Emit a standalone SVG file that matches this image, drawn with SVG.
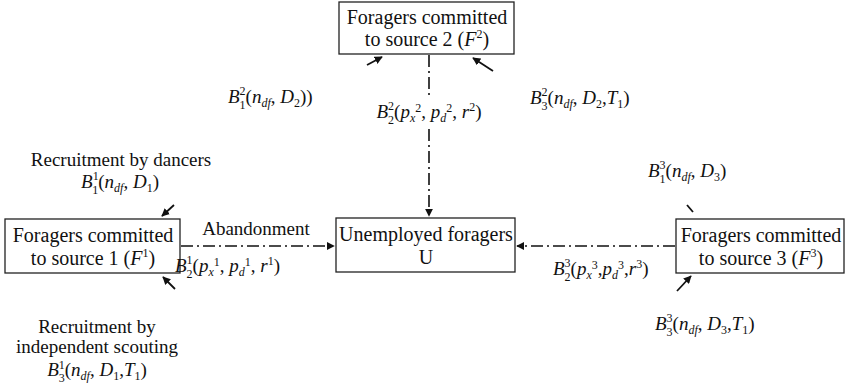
<svg xmlns="http://www.w3.org/2000/svg" width="847" height="386" viewBox="0 0 847 386">
<style>
text{font-family:"Liberation Serif","DejaVu Serif",serif;font-size:20px;fill:#111}
.box{fill:#fff;stroke:#222;stroke-width:1.3}
.lbl{font-size:19px}
.i{font-style:italic}
.s{font-size:12px}
.dd{fill:none;stroke:#111;stroke-width:1.6;stroke-dasharray:12,4,2,4}
.ar{fill:none;stroke:#111;stroke-width:1.8}
</style>
<defs>
<marker id="ah" viewBox="0 0 10 10" refX="9" refY="5" markerWidth="8" markerHeight="8" markerUnits="userSpaceOnUse" orient="auto">
<path d="M0,0 L10,5 L0,10 z" fill="#111"/>
</marker>
</defs>
<g id="connectors">
<line class="dd" x1="429" y1="55" x2="429" y2="97"/>
<line class="dd" x1="429" y1="129" x2="429" y2="216" marker-end="url(#ah)"/>
<line class="dd" x1="181" y1="246" x2="334" y2="246" marker-end="url(#ah)"/>
<line class="dd" x1="675" y1="246" x2="517" y2="246" marker-end="url(#ah)"/>
<line class="ar" x1="367" y1="65" x2="382" y2="57" marker-end="url(#ah)"/>
<line class="ar" x1="493" y1="71" x2="473" y2="58" marker-end="url(#ah)"/>
<line class="ar" x1="174" y1="205" x2="162" y2="216" marker-end="url(#ah)"/>
<line class="ar" x1="175" y1="289" x2="163" y2="277" marker-end="url(#ah)"/>
<line class="ar" x1="687" y1="205" x2="693" y2="212"/>
<line class="ar" x1="677" y1="291" x2="691" y2="276" marker-end="url(#ah)"/>
</g>
<g id="F2">
<rect class="box" x="339" y="2" width="175" height="52"/>
<text x="427" y="24" text-anchor="middle">Foragers committed</text>
<text x="427" y="46" text-anchor="middle">to source 2 (<tspan class="i">F</tspan><tspan class="s" dy="-8">2</tspan><tspan dy="8">)</tspan></text>
</g>
<g id="F1">
<rect class="box" x="5" y="219" width="175" height="54"/>
<text x="93" y="242" text-anchor="middle">Foragers committed</text>
<text x="93" y="265" text-anchor="middle">to source 1 (<tspan class="i">F</tspan><tspan class="s" dy="-8">1</tspan><tspan dy="8">)</tspan></text>
</g>
<g id="U">
<rect class="box" x="336" y="218" width="179" height="54"/>
<text x="426" y="241" text-anchor="middle">Unemployed foragers</text>
<text x="426" y="264" text-anchor="middle">U</text>
</g>
<g id="F3">
<rect class="box" x="676" y="219" width="168" height="54"/>
<text x="761" y="242" text-anchor="middle">Foragers committed</text>
<text x="761" y="265" text-anchor="middle">to source 3 (<tspan class="i">F</tspan><tspan class="s" dy="-8">3</tspan><tspan dy="8">)</tspan></text>
</g>
<g id="labels">
<text class="lbl" x="228" y="103"><tspan class="i">B</tspan><tspan class="s" dy="-8">2</tspan><tspan class="s" dx="-6" dy="13.5">1</tspan><tspan dy="-5.5">(</tspan><tspan class="i">n</tspan><tspan class="s i" dy="4">df</tspan><tspan dy="-4">, </tspan><tspan class="i">D</tspan><tspan class="s" dy="4">2</tspan><tspan dy="-4">))</tspan></text>
<text class="lbl" x="429" y="118" text-anchor="middle"><tspan class="i">B</tspan><tspan class="s" dy="-8">2</tspan><tspan class="s" dx="-6" dy="13.5">2</tspan><tspan dy="-5.5">(</tspan><tspan class="i">p</tspan><tspan class="s i" dy="4">x</tspan><tspan class="s" dy="-10">2</tspan><tspan dy="6">, </tspan><tspan class="i">p</tspan><tspan class="s i" dy="4">d</tspan><tspan class="s" dy="-10">2</tspan><tspan dy="6">, </tspan><tspan class="i">r</tspan><tspan class="s" dy="-7">2</tspan><tspan dy="7">)</tspan></text>
<text class="lbl" x="530" y="104"><tspan class="i">B</tspan><tspan class="s" dy="-8">2</tspan><tspan class="s" dx="-6" dy="13.5">3</tspan><tspan dy="-5.5">(</tspan><tspan class="i">n</tspan><tspan class="s i" dy="4">df</tspan><tspan dy="-4">, </tspan><tspan class="i">D</tspan><tspan class="s" dy="4">2</tspan><tspan dy="-4">,</tspan><tspan class="i">T</tspan><tspan class="s" dy="4">1</tspan><tspan dy="-4">)</tspan></text>
<text class="lbl" x="121" y="166" text-anchor="middle">Recruitment by dancers</text>
<text class="lbl" x="120" y="188" text-anchor="middle"><tspan class="i">B</tspan><tspan class="s" dy="-8">1</tspan><tspan class="s" dx="-6" dy="13.5">1</tspan><tspan dy="-5.5">(</tspan><tspan class="i">n</tspan><tspan class="s i" dy="4">df</tspan><tspan dy="-4">, </tspan><tspan class="i">D</tspan><tspan class="s" dy="4">1</tspan><tspan dy="-4">)</tspan></text>
<text class="lbl" x="256" y="235" text-anchor="middle">Abandonment</text>
<text class="lbl" x="175" y="272"><tspan class="i">B</tspan><tspan class="s" dy="-8">1</tspan><tspan class="s" dx="-6" dy="13.5">2</tspan><tspan dy="-5.5">(</tspan><tspan class="i">p</tspan><tspan class="s i" dy="4">x</tspan><tspan class="s" dy="-10">1</tspan><tspan dy="6">, </tspan><tspan class="i">p</tspan><tspan class="s i" dy="4">d</tspan><tspan class="s" dy="-10">1</tspan><tspan dy="6">, </tspan><tspan class="i">r</tspan><tspan class="s" dy="-7">1</tspan><tspan dy="7">)</tspan></text>
<text class="lbl" x="97" y="333" text-anchor="middle">Recruitment by</text>
<text class="lbl" x="97" y="353" text-anchor="middle">independent scouting</text>
<text class="lbl" x="97" y="376" text-anchor="middle"><tspan class="i">B</tspan><tspan class="s" dy="-7">1</tspan><tspan class="s" dx="-6" dy="12.5">3</tspan><tspan dy="-5.5">(</tspan><tspan class="i">n</tspan><tspan class="s i" dy="4">df</tspan><tspan dy="-4">, </tspan><tspan class="i">D</tspan><tspan class="s" dy="4">1</tspan><tspan dy="-4">,</tspan><tspan class="i">T</tspan><tspan class="s" dy="4">1</tspan><tspan dy="-4">)</tspan></text>
<text class="lbl" x="648" y="177"><tspan class="i">B</tspan><tspan class="s" dy="-8">3</tspan><tspan class="s" dx="-6" dy="13.5">1</tspan><tspan dy="-5.5">(</tspan><tspan class="i">n</tspan><tspan class="s i" dy="4">df</tspan><tspan dy="-4">, </tspan><tspan class="i">D</tspan><tspan class="s" dy="4">3</tspan><tspan dy="-4">)</tspan></text>
<text class="lbl" x="553" y="275"><tspan class="i">B</tspan><tspan class="s" dy="-8">3</tspan><tspan class="s" dx="-6" dy="13.5">2</tspan><tspan dy="-5.5">(</tspan><tspan class="i">p</tspan><tspan class="s i" dy="4">x</tspan><tspan class="s" dy="-10">3</tspan><tspan dy="6">,</tspan><tspan class="i">p</tspan><tspan class="s i" dy="4">d</tspan><tspan class="s" dy="-10">3</tspan><tspan dy="6">,</tspan><tspan class="i">r</tspan><tspan class="s" dy="-7">3</tspan><tspan dy="7">)</tspan></text>
<text class="lbl" x="655" y="330"><tspan class="i">B</tspan><tspan class="s" dy="-8">3</tspan><tspan class="s" dx="-6" dy="13.5">3</tspan><tspan dy="-5.5">(</tspan><tspan class="i">n</tspan><tspan class="s i" dy="4">df</tspan><tspan dy="-4">, </tspan><tspan class="i">D</tspan><tspan class="s" dy="4">3</tspan><tspan dy="-4">,</tspan><tspan class="i">T</tspan><tspan class="s" dy="4">1</tspan><tspan dy="-4">)</tspan></text>
</g>
</svg>
